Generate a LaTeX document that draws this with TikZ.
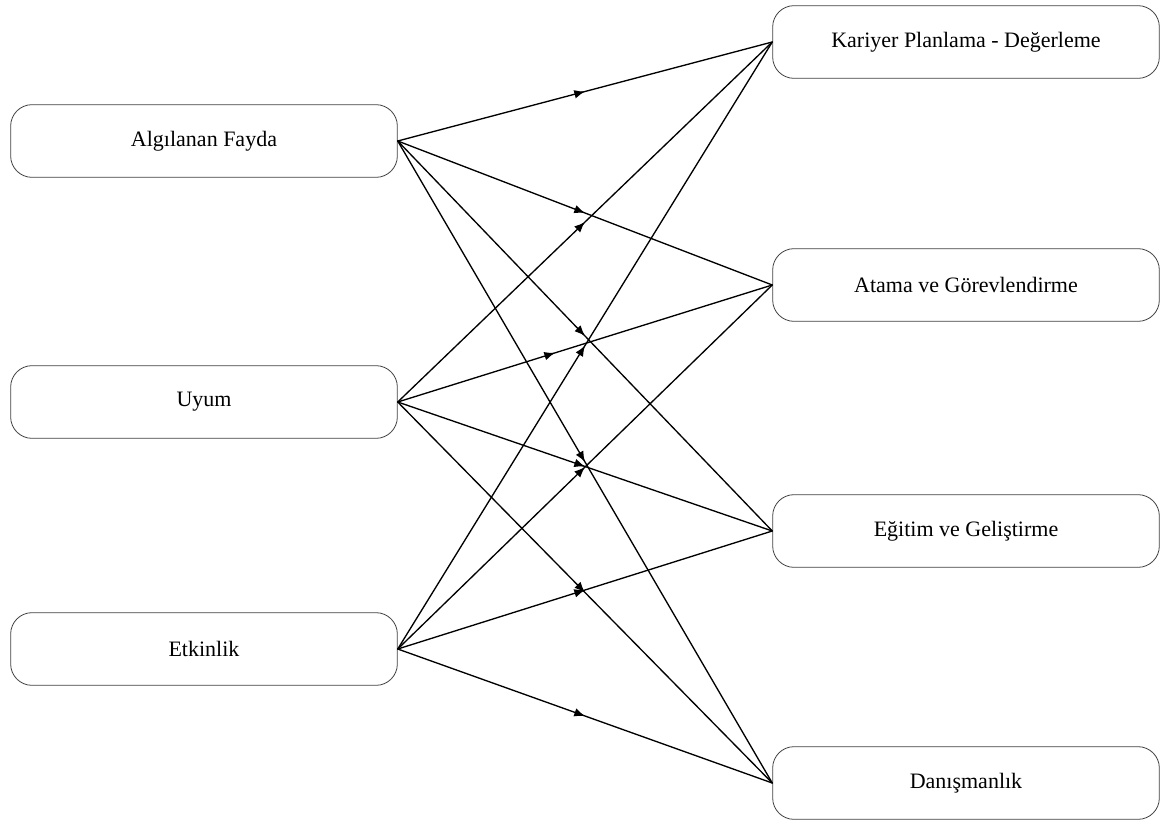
\documentclass[tikz,border=0pt]{standalone}
\usepackage{fontspec}
\setmainfont{Liberation Serif}
\usetikzlibrary{arrows.meta,decorations.markings}
\begin{document}
\begin{tikzpicture}[
		x=0.75pt, y=-0.75pt, font=\fontsize{16.5}{19}\selectfont,
		line join=round, line cap=round,
		kutu/.style={draw=black!75, line width=0.6pt, rounded corners=16pt,
			minimum width=290pt, minimum height=54.5pt, inner sep=0pt},
		okline/.style={line width=1pt, postaction={decorate},
			decoration={markings, mark=at position #1 with {\arrow{Latex[length=8pt,width=6.5pt]}}}},
		okline/.default=0.5
		]
		\useasboundingbox (0,0) rectangle (1160,821);
		\node[kutu] (fayda) at (204,141) {Algılanan Fayda};
		\node[kutu] (uyum) at (204,402) {Uyum};
		\node[kutu] (etkinlik) at (204,649) {Etkinlik};
		\node[kutu] (kariyer) at (966,42) {Kariyer Planlama - Değerleme};
		\node[kutu] (atama) at (966,285) {Atama ve Görevlendirme};
		\node[kutu] (egitim) at (966,531) {Eğitim ve Geliştirme};
		\node[kutu] (danisma) at (966,783) {Danışmanlık};
		\draw[okline] (fayda.east) -- (kariyer.west);
		\draw[okline] (fayda.east) -- (atama.west);
		\draw[okline] (fayda.east) -- (egitim.west);
		\draw[okline] (fayda.east) -- (danisma.west);
		\draw[okline] (uyum.east) -- (kariyer.west);
		\draw[okline=0.42] (uyum.east) -- (atama.west);
		\draw[okline] (uyum.east) -- (egitim.west);
		\draw[okline] (uyum.east) -- (danisma.west);
		\draw[okline] (etkinlik.east) -- (kariyer.west);
		\draw[okline] (etkinlik.east) -- (atama.west);
		\draw[okline] (etkinlik.east) -- (egitim.west);
		\draw[okline] (etkinlik.east) -- (danisma.west);
\end{tikzpicture}
\end{document}
